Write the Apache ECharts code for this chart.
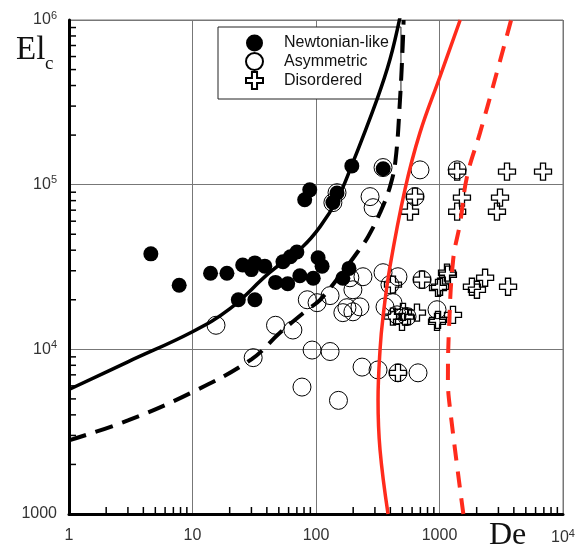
<!DOCTYPE html>
<html>
<head>
<meta charset="utf-8">
<script src="https://cdn.jsdelivr.net/npm/echarts@6/dist/echarts.min.js"></script>
<style>
  html, body { margin: 0; padding: 0; background: #fff; }
  #main { width: 578px; height: 552px; }
</style>
</head>
<body>
<div id="main"></div>
<script>
// ---- data (De, El_c) ----
const newtonianLike = [
    [4.6, 38000], [7.8, 24500], [14, 29000], [19, 29000], [25.5, 32500], [30, 30500],
    [32, 33500], [38.5, 32000], [23.5, 20000], [32, 20000], [47, 25500], [54, 34000],
    [62, 36500], [70, 39000], [74, 28000], [59, 25000], [95, 27000], [104, 36000],
    [112, 32000], [165, 27000], [185, 31000], [89, 93000], [81, 81000], [148, 89000],
    [137, 78000], [195, 130000], [350, 125000]
];
const asymmetric = [
    [15.5, 14000], [31, 8900], [47, 14000], [65, 13100], [93, 9900], [130, 9700],
    [77, 5900], [152, 4900], [236, 7800], [318, 7500], [461, 7200], [670, 7200],
    [85, 20000], [102, 19200], [178, 17900], [199, 16900], [227, 18100], [165, 16700],
    [188, 27200], [240, 27600], [349, 29200], [420, 19200], [274, 84600], [290, 72500],
    [695, 123000], [1390, 123000], [633, 84600], [148, 89400], [137, 77800], [349, 127000],
    [461, 27600], [397, 24700], [722, 26500], [199, 23000], [362, 18100], [453, 16200],
    [546, 15800], [130, 21200], [955, 17400]
];
const disordered = [
    [3520, 120000], [6890, 120000], [1390, 120000], [1520, 83400], [1390, 68500],
    [3090, 83400], [2920, 68500], [633, 84600], [577, 68500],
    [1150, 29200], [1010, 24000], [1830, 24000], [2010, 23000], [2340, 27200],
    [3590, 24000], [722, 26500], [973, 23600], [1170, 28400], [420, 24700],
    [526, 15800], [657, 16700], [973, 15100], [1286, 16200], [420, 15800],
    [506, 16900], [497, 14700], [955, 14700], [461, 7200]
];

// boundary curves
const blackSolid = [
    [1, 5700], [3, 8400], [10, 12800], [20, 17600], [42, 29200], [78, 42000],
    [108, 55600], [148, 81000], [190, 125000], [312, 330000], [397, 575000], [480, 1050000]
];
const blackDashed = [
    [1, 2800], [3, 3700], [10, 5500], [30, 8700], [51, 12600], [85, 17400],
    [108, 20000], [165, 29600], [215, 38600], [264, 48300], [330, 67600], [397, 97000],
    [440, 140000], [479, 330000], [506, 760000], [512, 1000000]
];
const redSolid = [
    [383, 1000], [330, 2450], [318, 4930], [330, 9930], [349, 15800], [397, 31700],
    [525, 93300], [695, 207000], [1010, 454000], [1470, 1000000]
];
const redDashed = [
    [1560, 1000], [1220, 4300], [1170, 6500], [1190, 12600], [1290, 35000], [1470, 58800],
    [1670, 112000], [2130, 207000], [2810, 435000], [3800, 1000000]
];

// minor ticks (2..9 in every decade)
const xMinor = [2, 3, 4, 5, 6, 7, 8, 9, 20, 30, 40, 50, 60, 70, 80, 90,
    200, 300, 400, 500, 600, 700, 800, 900, 2000, 3000, 4000, 5000, 6000, 7000, 8000, 9000];
const yMinor = [2000, 3000, 4000, 5000, 6000, 7000, 8000, 9000,
    20000, 30000, 40000, 50000, 60000, 70000, 80000, 90000,
    200000, 300000, 400000, 500000, 600000, 700000, 800000, 900000];

const X_MIN = 1, X_MAX = 10000, Y_MIN = 1000, Y_MAX = 1000000;
const CROSS = 'path://M3.5,0 H6.5 V3.5 H10 V6.5 H6.5 V10 H3.5 V6.5 H0 V3.5 H3.5 Z';
const RED = '#ff2b1c';
const labelFont = 'Liberation Sans';

const chart = echarts.init(document.getElementById('main'));

function powLabel(v) {
    const e = Math.round(Math.log10(v));
    if (e <= 3) return String(Math.round(v));
    return '{b|10}{s|' + e + '}';
}
const richPow = {
    b: { fontFamily: labelFont, fontSize: 16, color: '#333' },
    s: { fontFamily: labelFont, fontSize: 11, color: '#333', padding: [0, 0, 9, 0] }
};

const option = {
    animation: false,
    backgroundColor: '#fff',
    grid: {
        left: 69, right: 15, top: 20, bottom: 38,
        show: true, borderColor: '#777', borderWidth: 1
    },
    legend: {
        data: ['Newtonian-like', 'Asymmetric', 'Disordered'],
        orient: 'vertical',
        left: 218, top: 27,
        padding: [7, 12, 9, 27],
        itemGap: 0, itemWidth: 17, itemHeight: 18,
        backgroundColor: '#fff', borderColor: '#222', borderWidth: 1,
        selectedMode: false,
        textStyle: { fontFamily: labelFont, fontSize: 16, color: '#111', lineHeight: 18, padding: [0, 0, 0, 16] }
    },
    xAxis: {
        type: 'log', logBase: 10, min: X_MIN, max: X_MAX,
        axisLine: { lineStyle: { color: '#000', width: 3 } },
        axisTick: { show: false },
        splitLine: { show: true, lineStyle: { color: '#777', width: 1 } },
        axisLabel: { margin: 14, formatter: powLabel, rich: richPow, fontFamily: labelFont, fontSize: 16, color: '#333' }
    },
    yAxis: {
        type: 'log', logBase: 10, min: Y_MIN, max: Y_MAX,
        axisLine: { lineStyle: { color: '#000', width: 3 } },
        axisTick: { show: false },
        splitLine: { show: true, lineStyle: { color: '#777', width: 1 } },
        axisLabel: { margin: 12, formatter: powLabel, rich: richPow, fontFamily: labelFont, fontSize: 16, color: '#333' }
    },
    graphic: [
        { type: 'text', left: 16, top: 34, style: { text: 'El', font: '33px "Liberation Serif"', fill: '#111' } },
        { type: 'text', left: 45, top: 55, style: { text: 'c', font: '19px "Liberation Serif"', fill: '#111' } },
        { type: 'text', left: 489, top: 520, style: { text: 'De', font: '32px "Liberation Serif"', fill: '#111' } }
    ],
    series: [
        // minor tick marks on the bottom and left axes
        {
            type: 'scatter', clip: false, z: 3,
            data: xMinor.map(v => [v, Y_MIN]),
            symbol: 'rect', symbolSize: [1.5, 7], symbolOffset: [0, -3.5],
            itemStyle: { color: '#000', opacity: 1 }
        },
        {
            type: 'scatter', clip: false, z: 3,
            data: yMinor.map(v => [X_MIN, v]),
            symbol: 'rect', symbolSize: [7, 1.5], symbolOffset: [3.5, 0],
            itemStyle: { color: '#000', opacity: 1 }
        },
        {
            name: 'Newtonian-like', type: 'scatter', data: newtonianLike,
            symbol: 'circle', symbolSize: 15,
            itemStyle: { color: '#000', opacity: 1 }
        },
        {
            name: 'Asymmetric', type: 'scatter', data: asymmetric,
            symbol: 'circle', symbolSize: 18,
            itemStyle: { color: 'rgba(255,255,255,0)', borderColor: '#000', borderWidth: 1, opacity: 1 }
        },
        {
            name: 'Disordered', type: 'scatter', data: disordered,
            symbol: CROSS, symbolSize: 17,
            itemStyle: { color: 'rgba(255,255,255,0)', borderColor: '#000', borderWidth: 1.3, opacity: 1 }
        },
        {
            type: 'line', data: blackSolid, smooth: 0.4, showSymbol: false, z: 10,
            lineStyle: { color: '#000', width: 3.5 }
        },
        {
            type: 'line', data: blackDashed, smooth: 0.4, showSymbol: false, z: 10,
            lineStyle: { color: '#000', width: 4, type: [18, 10] }
        },
        {
            type: 'line', data: redSolid, smooth: 0.4, showSymbol: false, z: 10,
            lineStyle: { color: RED, width: 3.5 }
        },
        {
            type: 'line', data: redDashed, smooth: 0.4, showSymbol: false, z: 10,
            lineStyle: { color: RED, width: 4, type: [16, 11] }
        }
    ]
};

chart.setOption(option);
</script>
</body>
</html>
